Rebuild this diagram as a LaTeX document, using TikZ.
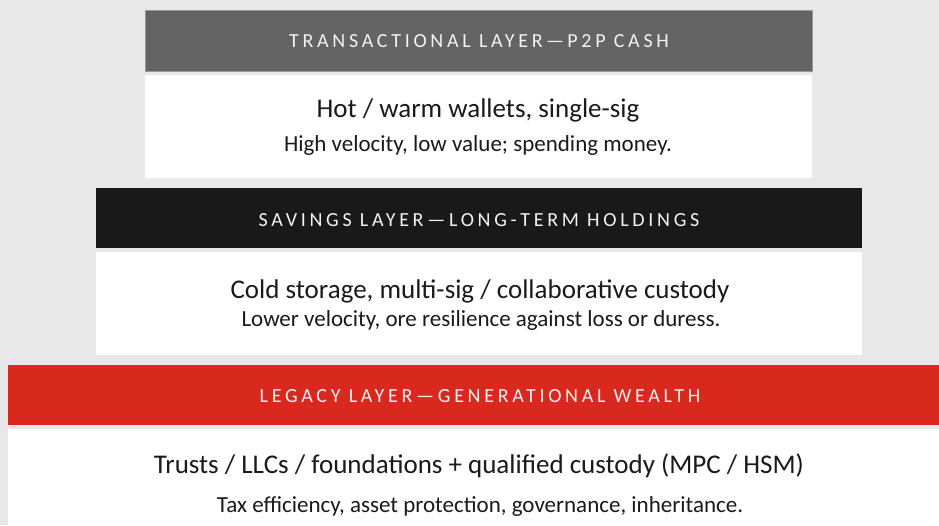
\documentclass[tikz,border=0pt]{standalone}
\usepackage{fontspec}
\setmainfont{Carlito}
\newfontfamily\headfont[LetterSpace=18.5]{Carlito}
\definecolor{pagebg}{HTML}{E8E8E8}
\definecolor{transgray}{HTML}{646464}
\definecolor{savingsblack}{HTML}{191919}
\definecolor{legacyred}{HTML}{D9291E}
\definecolor{inktext}{HTML}{1A1A1A}
\definecolor{headtext}{HTML}{F2F2F2}
\begin{document}
\begin{tikzpicture}[x=1pt,y=-1pt,
  headlabel/.style={anchor=base,inner sep=0pt,text=headtext,
    font=\headfont\fontsize{20}{24}\selectfont},
  mainline/.style={anchor=base,inner sep=0pt,text=inktext,
    font=\fontsize{27}{32}\selectfont},
  subline/.style={anchor=base,inner sep=0pt,text=inktext,
    font=\fontsize{23}{28}\selectfont}]
% page
\fill[pagebg] (0,0) rectangle (939,525);
\useasboundingbox (0,0) rectangle (939,525);

% transactional layer
\fill[transgray,draw=gray!80,line width=0.6pt] (145,10) rectangle (812,71);
\fill[white] (145,75) rectangle (812,178);
\node[headlabel] (h1) at (479,47) {TRANSACTIONAL LAYER\,—\,P2P CASH};
\node[mainline] (m1) at (478,117.7) {Hot / warm wallets, single-sig};
\node[subline] (s1) at (478,151) {High velocity, low value; spending money.};

% savings layer
\fill[savingsblack] (96,188) rectangle (862,248);
\fill[white] (96,252) rectangle (862,355);
\node[headlabel] (h2) at (479,226) {SAVINGS LAYER—LONG-TERM HOLDINGS};
\node[mainline] (m2) at (480,298) {Cold storage, multi-sig / collaborative custody};
\node[subline] (s2) at (481,326) {Lower velocity, ore resilience against loss or duress.};

% legacy layer
\fill[legacyred] (8,365) rectangle (950,425);
\fill[white] (8,429) rectangle (950,530);
\node[headlabel] (h3) at (480,402) {LEGACY LAYER—GENERATIONAL WEALTH};
\node[mainline] (m3) at (479,473.3) {Trusts / LLCs / foundations + qualified custody (MPC / HSM)};
\node[subline] (s3) at (480,512.7) {Tax efficiency, asset protection, governance, inheritance.};
\end{tikzpicture}
\end{document}
